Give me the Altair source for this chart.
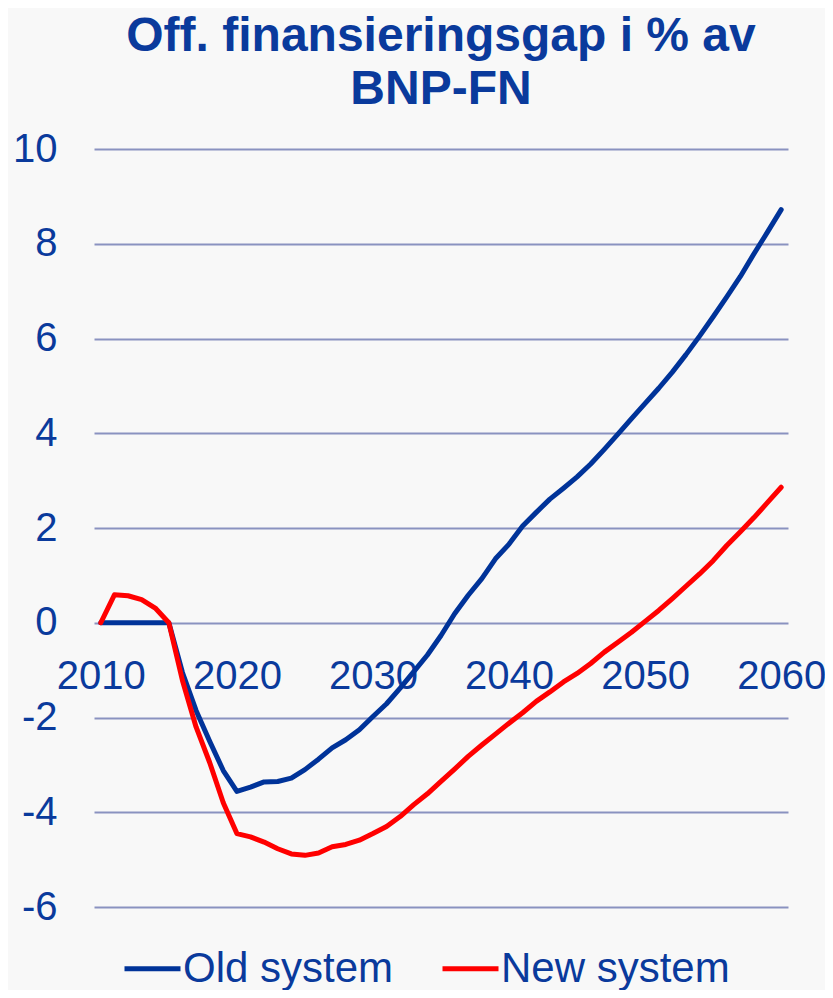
import altair as alt
import pandas as pd

years = list(range(2010, 2061))
old_system = [0, 0, 0, 0, 0, 0, -1.05, -1.85, -2.5, -3.12, -3.56,
              -3.47, -3.36, -3.35, -3.28, -3.10, -2.88, -2.64, -2.47, -2.26, -1.98,
              -1.71, -1.38, -1.03, -0.68, -0.27, 0.19, 0.58, 0.93, 1.35, 1.66,
              2.04, 2.33, 2.61, 2.84, 3.08, 3.35, 3.66, 3.98, 4.31, 4.63,
              4.95, 5.29, 5.66, 6.05, 6.46, 6.88, 7.31, 7.79, 8.25, 8.72]
new_system = [0, 0.59, 0.57, 0.49, 0.31, 0, -1.22, -2.2, -2.95, -3.8, -4.45,
              -4.52, -4.63, -4.77, -4.88, -4.91, -4.86, -4.73, -4.68, -4.59, -4.45,
              -4.30, -4.09, -3.84, -3.61, -3.35, -3.09, -2.82, -2.58, -2.35, -2.12,
              -1.90, -1.66, -1.46, -1.25, -1.07, -0.86, -0.62, -0.41, -0.20, 0.03,
              0.26, 0.51, 0.77, 1.03, 1.31, 1.63, 1.92, 2.22, 2.54, 2.86]
series_names = ["Old system", "New system"]
series_colors = ["#003399", "#ff0000"]
x_ticks = [2010, 2020, 2030, 2040, 2050, 2060]
y_ticks = [-6, -4, -2, 0, 2, 4, 6, 8, 10]
title_lines = ["Off. finansieringsgap i % av", "BNP-FN"]

rows = []
for name, vals in zip(series_names, [old_system, new_system]):
    for yr, v in zip(years, vals):
        rows.append({"year": yr, "value": v, "series": name})
df = pd.DataFrame(rows)

TEXT = "#0a3a9c"
FONT = "Liberation Sans"

color = alt.Color(
    "series:N",
    scale=alt.Scale(domain=series_names, range=series_colors),
    legend=alt.Legend(
        title=None, orient="none", direction="horizontal",
        legendX=28, legendY=789,
        symbolType="stroke", symbolSize=3136, symbolStrokeWidth=5,
        labelFontSize=42, labelFont=FONT, labelColor=TEXT,
        labelOffset=0, columnPadding=38, labelLimit=400,
    ),
)

x = alt.X(
    "year:Q",
    scale=alt.Scale(domain=[2009.5, 2060.5], nice=False, zero=False),
    axis=alt.Axis(values=x_ticks, format="d", grid=False, domain=False, ticks=False,
                  labelFontSize=40, labelFont=FONT, labelColor=TEXT, labelPadding=33,
                  offset=-284, title=None, zindex=0, labelOverlap=False),
)
y = alt.Y(
    "value:Q",
    scale=alt.Scale(domain=[-6, 10], nice=False, zero=False),
    axis=alt.Axis(values=y_ticks, grid=True, gridColor="#8a92c0", gridWidth=2,
                  domain=False, ticks=False, labelFontSize=40, labelFont=FONT,
                  labelColor=TEXT, labelPadding=37, title=None, zindex=0,
                  labelExpr="datum.value < 0 ? '-' + abs(datum.value) : '' + datum.value"),
)

base = alt.Chart(df)
layers = []
for name in series_names:
    layers.append(
        base.transform_filter(alt.datum.series == name)
        .mark_line(strokeWidth=5, strokeJoin="round", strokeCap="round")
        .encode(x=x, y=y, color=color)
    )

chart = alt.layer(*layers).properties(
    width=694,
    height=758,
    autosize=alt.AutoSizeParams(type="none"),
    padding={"left": 86, "top": 141, "right": 37, "bottom": 83},
    background="#f8f8f8",
    title=alt.TitleParams(
        text=title_lines, fontSize=48, fontWeight="bold", font=FONT, color=TEXT,
        lineHeight=53, anchor="middle", offset=15,
    ),
).configure_view(stroke=None)

chart.save("out.html", embed_options={"renderer": "svg", "actions": False})
